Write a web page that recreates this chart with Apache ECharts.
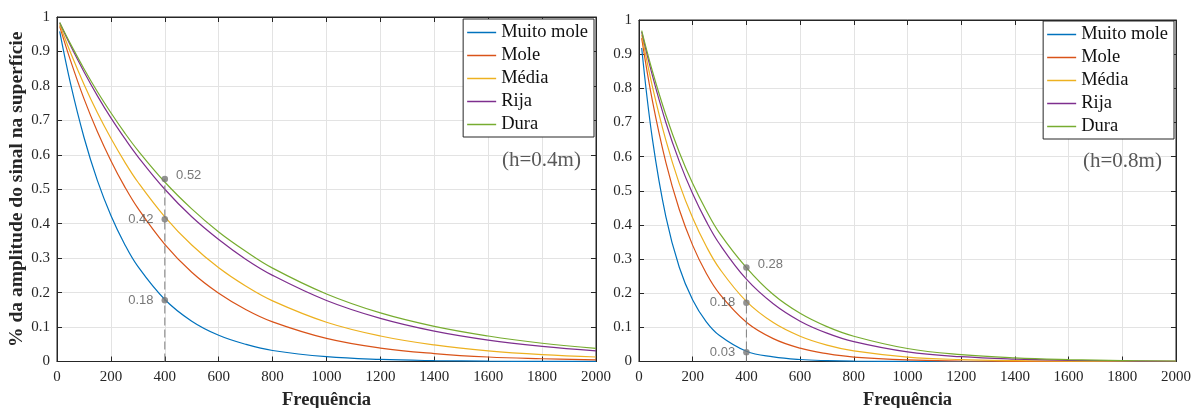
<!DOCTYPE html>
<html><head><meta charset="utf-8">
<script src="https://cdn.jsdelivr.net/npm/echarts@6/dist/echarts.min.js"></script>
<style>html,body{margin:0;padding:0;background:#fff;overflow:hidden}#c{width:1195px;height:408px}</style>
</head><body><div id="c"></div>
<script>
// Frequencies sampled
var freq = [10, 50, 100, 150, 200, 250, 300, 400, 500, 600, 700, 800, 1000, 1200, 1400, 1600, 1800, 2000];
var seriesNames = ['Muito mole', 'Mole', 'Média', 'Rija', 'Dura'];
// Left panel (h=0.4m)
var h04_muitoMole = [0.958, 0.807, 0.651, 0.525, 0.424, 0.342, 0.276, 0.180, 0.117, 0.076, 0.050, 0.032, 0.014, 0.006, 0.0025, 0.001, 0.0004, 0.0002];
var h04_mole      = [0.973, 0.874, 0.763, 0.667, 0.583, 0.509, 0.445, 0.340, 0.259, 0.198, 0.151, 0.115, 0.067, 0.039, 0.023, 0.013, 0.008, 0.0045];
var h04_media     = [0.978, 0.897, 0.805, 0.722, 0.648, 0.581, 0.521, 0.420, 0.338, 0.272, 0.219, 0.176, 0.114, 0.074, 0.048, 0.031, 0.020, 0.013];
var h04_rija      = [0.983, 0.917, 0.841, 0.771, 0.707, 0.649, 0.595, 0.500, 0.420, 0.354, 0.297, 0.250, 0.177, 0.125, 0.088, 0.062, 0.044, 0.031];
var h04_dura      = [0.984, 0.922, 0.850, 0.783, 0.722, 0.665, 0.613, 0.521, 0.443, 0.376, 0.320, 0.271, 0.196, 0.141, 0.102, 0.074, 0.053, 0.038];
// Right panel (h=0.8m)
var h08_muitoMole = [0.918, 0.651, 0.424, 0.276, 0.180, 0.117, 0.076, 0.030, 0.0137, 0.0058, 0.0025, 0.001, 0.0002, 0.00003, 0, 0, 0, 0];
var h08_mole      = [0.947, 0.763, 0.583, 0.445, 0.340, 0.259, 0.198, 0.115, 0.067, 0.039, 0.023, 0.013, 0.0045, 0.0015, 0.0005, 0.0002, 0.0001, 0];
var h08_media     = [0.957, 0.805, 0.648, 0.521, 0.420, 0.338, 0.272, 0.176, 0.114, 0.074, 0.048, 0.031, 0.013, 0.0055, 0.0023, 0.001, 0.0004, 0.0002];
var h08_rija      = [0.965, 0.837, 0.700, 0.586, 0.491, 0.411, 0.344, 0.241, 0.169, 0.118, 0.083, 0.058, 0.028, 0.014, 0.0069, 0.0034, 0.0017, 0.0008];
var h08_dura      = [0.969, 0.850, 0.722, 0.613, 0.521, 0.443, 0.376, 0.275, 0.196, 0.141, 0.102, 0.074, 0.038, 0.020, 0.0104, 0.0055, 0.0028, 0.0015];
// Annotations at f=400
var annotFreq = 400;
var leftAnnot = [{v: 0.53, label: '0.52', pos: 'right'}, {v: 0.413, label: '0.42', pos: 'left'}, {v: 0.178, label: '0.18', pos: 'left'}];
var rightAnnot = [{v: 0.275, label: '0.28', pos: 'right'}, {v: 0.172, label: '0.18', pos: 'left'}, {v: 0.027, label: '0.03', pos: 'left'}];
var panelLabels = ['(h=0.4m)', '(h=0.8m)'];

var colors = ['#0072BD', '#D95319', '#EDB120', '#7E2F8E', '#77AC30'];
var leftData = [h04_muitoMole, h04_mole, h04_media, h04_rija, h04_dura];
var rightData = [h08_muitoMole, h08_mole, h08_media, h08_rija, h08_dura];

var serif = '"Liberation Serif", "Times New Roman", serif';
var sans = '"Liberation Sans", Arial, sans-serif';
var axisColor = '#262626';

function zip(xs, ys) { return xs.map(function (x, i) { return [x, ys[i]]; }); }

var grids = [
  {left: 57, width: 539, top: 17, height: 344.5},
  {left: 639, width: 537, top: 20, height: 341.5}
];

var xAxes = [], yAxes = [], series = [];
[0, 1].forEach(function (g) {
  xAxes.push({
    type: 'value', gridIndex: g, min: 0, max: 2000, interval: 200,
    name: 'Frequência', nameLocation: 'middle', nameGap: 29,
    nameTextStyle: {fontFamily: serif, fontWeight: 'bold', fontSize: 18.5, color: axisColor},
    axisLine: {onZero: false, lineStyle: {color: axisColor, width: 1}},
    axisTick: {inside: true, length: 5, lineStyle: {color: axisColor}},
    axisLabel: {fontFamily: serif, fontSize: 15, color: axisColor, margin: 8,
      formatter: function (v) { return String(v); }},
    splitLine: {show: true, lineStyle: {color: '#e3e3e3', width: 1}}
  });
  xAxes.push({
    type: 'value', gridIndex: g, min: 0, max: 2000, interval: 200, position: 'top',
    axisLine: {onZero: false, lineStyle: {color: axisColor, width: 1}},
    axisTick: {inside: true, length: 5, lineStyle: {color: axisColor}},
    axisLabel: {show: false}, splitLine: {show: false}
  });
  yAxes.push({
    type: 'value', gridIndex: g, min: 0, max: 1, interval: 0.1,
    name: g === 0 ? '% da amplitude do sinal na superfície' : '',
    nameLocation: 'middle', nameGap: 27,
    nameTextStyle: {fontFamily: serif, fontWeight: 'bold', fontSize: 19.5, color: axisColor},
    axisLine: {onZero: false, lineStyle: {color: axisColor, width: 1}},
    axisTick: {inside: true, length: 5, lineStyle: {color: axisColor}},
    axisLabel: {fontFamily: serif, fontSize: 15, color: axisColor, margin: 7,
      formatter: function (v) { return String(Math.round(v * 10) / 10); }},
    splitLine: {show: true, lineStyle: {color: '#e3e3e3', width: 1}}
  });
  yAxes.push({
    type: 'value', gridIndex: g, min: 0, max: 1, interval: 0.1, position: 'right',
    axisLine: {onZero: false, lineStyle: {color: axisColor, width: 1}},
    axisTick: {inside: true, length: 5, lineStyle: {color: axisColor}},
    axisLabel: {show: false}, splitLine: {show: false}
  });
  var data = g === 0 ? leftData : rightData;
  seriesNames.forEach(function (n, i) {
    series.push({
      name: n, type: 'line', xAxisIndex: g * 2, yAxisIndex: g * 2,
      data: zip(freq, data[i]), smooth: 0.4, showSymbol: false, symbol: 'none',
      lineStyle: {color: colors[i], width: 1.2}, itemStyle: {color: colors[i]}, z: 3
    });
  });
  var ann = g === 0 ? leftAnnot : rightAnnot;
  var top = Math.max.apply(null, ann.map(function (a) { return a.v; }));
  series.push({
    type: 'line', xAxisIndex: g * 2, yAxisIndex: g * 2, symbol: 'none',
    data: [[annotFreq, 0], [annotFreq, top]],
    lineStyle: {color: '#808080', width: 1, type: [8, 4]}, z: 4, silent: true
  });
  series.push({
    type: 'scatter', xAxisIndex: g * 2, yAxisIndex: g * 2, symbolSize: 6.5,
    itemStyle: {color: '#787878'}, z: 5,
    data: ann.map(function (a) {
      return {value: [annotFreq, a.v], label: {show: true, position: a.pos, distance: 8, formatter: a.label,
        offset: a.pos === 'right' ? [0, -3] : [0, 0],
        fontFamily: sans, fontSize: 13, color: '#555'}};
    })
  });
});

var legendBase = {
  data: seriesNames, orient: 'vertical', icon: 'rect', itemWidth: 29, itemHeight: 1.5, itemGap: 4,
  backgroundColor: '#fff', borderColor: '#262626', borderWidth: 1, borderRadius: 0,
  padding: [4, 6, 3, 4],
  textStyle: {fontFamily: serif, fontSize: 18.5, lineHeight: 18, color: '#111'}
};
var legends = [
  Object.assign({}, legendBase, {right: 1195 - 594, top: 19}),
  Object.assign({}, legendBase, {right: 1195 - 1174, top: 21})
];

var chart = echarts.init(document.getElementById('c'), null, {renderer: 'canvas'});
chart.setOption({
  animation: false,
  color: colors,
  grid: grids.map(function (g) {
    return Object.assign({show: true, borderColor: axisColor, borderWidth: 1, backgroundColor: 'transparent',
      containLabel: false, outerBoundsMode: 'none'}, g);
  }),
  xAxis: xAxes, yAxis: yAxes, series: series,
  legend: legends,
  title: [
    {text: panelLabels[0], left: 497, top: 145, textStyle: {fontFamily: serif, fontSize: 21, fontWeight: 'normal', color: '#595959'}},
    {text: panelLabels[1], left: 1078, top: 146, textStyle: {fontFamily: serif, fontSize: 21, fontWeight: 'normal', color: '#595959'}}
  ]
});
</script></body></html>
